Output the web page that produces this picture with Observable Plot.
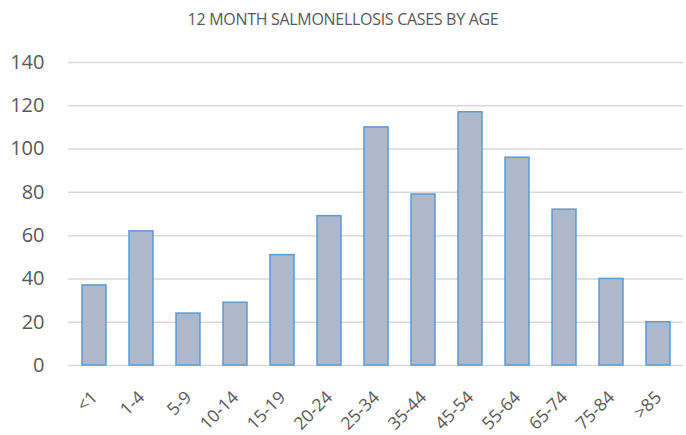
<!DOCTYPE html>
<html>
<head>
<meta charset="utf-8">
<script src="https://cdn.jsdelivr.net/npm/d3@7"></script>
<script src="https://cdn.jsdelivr.net/npm/@observablehq/plot@0.6"></script>
<style>
  body { margin: 0; background: #fff; font-family: "Open Sans", sans-serif; overflow: hidden; }
  #title { height: 40px; line-height: 38px; text-align: center; color: #595959; font-size: 16px; letter-spacing: -0.3px; }
</style>
</head>
<body>
<div id="title">12 MONTH SALMONELLOSIS CASES BY AGE</div>
<div id="chart"></div>
<script>
const ageGroups = ["<1", "1-4", "5-9", "10-14", "15-19", "20-24", "25-34", "35-44", "45-54", "55-64", "65-74", "75-84", ">85"];
const cases = [37, 62, 24, 29, 51, 69, 110, 79, 117, 96, 72, 40, 20];
const yTicks = [0, 20, 40, 60, 80, 100, 120, 140];

const data = ageGroups.map((g, i) => ({group: g, cases: cases[i]}));

const chart = Plot.plot({
  width: 686,
  height: 395,
  marginTop: 22,
  marginBottom: 70,
  marginLeft: 68,
  marginRight: 3,
  style: { fontFamily: "Open Sans, sans-serif", color: "#595959", background: "#fff" },
  x: { domain: ageGroups, paddingInner: 0.49, paddingOuter: 0.245, label: null },
  y: { domain: [0, 140], label: null },
  marks: [
    Plot.ruleY(yTicks, { stroke: "#d9d9d9", strokeWidth: 1.5 }),
    Plot.barY(data, { x: "group", y: "cases", fill: "#adb9ca", stroke: "#5b9bd5", strokeWidth: 1.5 }),
    Plot.axisY(yTicks, { tickSize: 0, tickPadding: 24, fontSize: 20, fill: "#595959", label: null }),
    Plot.axisX({ tickSize: 0, tickPadding: 29, tickRotate: -45, fontSize: 17.5, fill: "#595959", label: null })
  ]
});
document.getElementById("chart").appendChild(chart);
</script>
</body>
</html>
